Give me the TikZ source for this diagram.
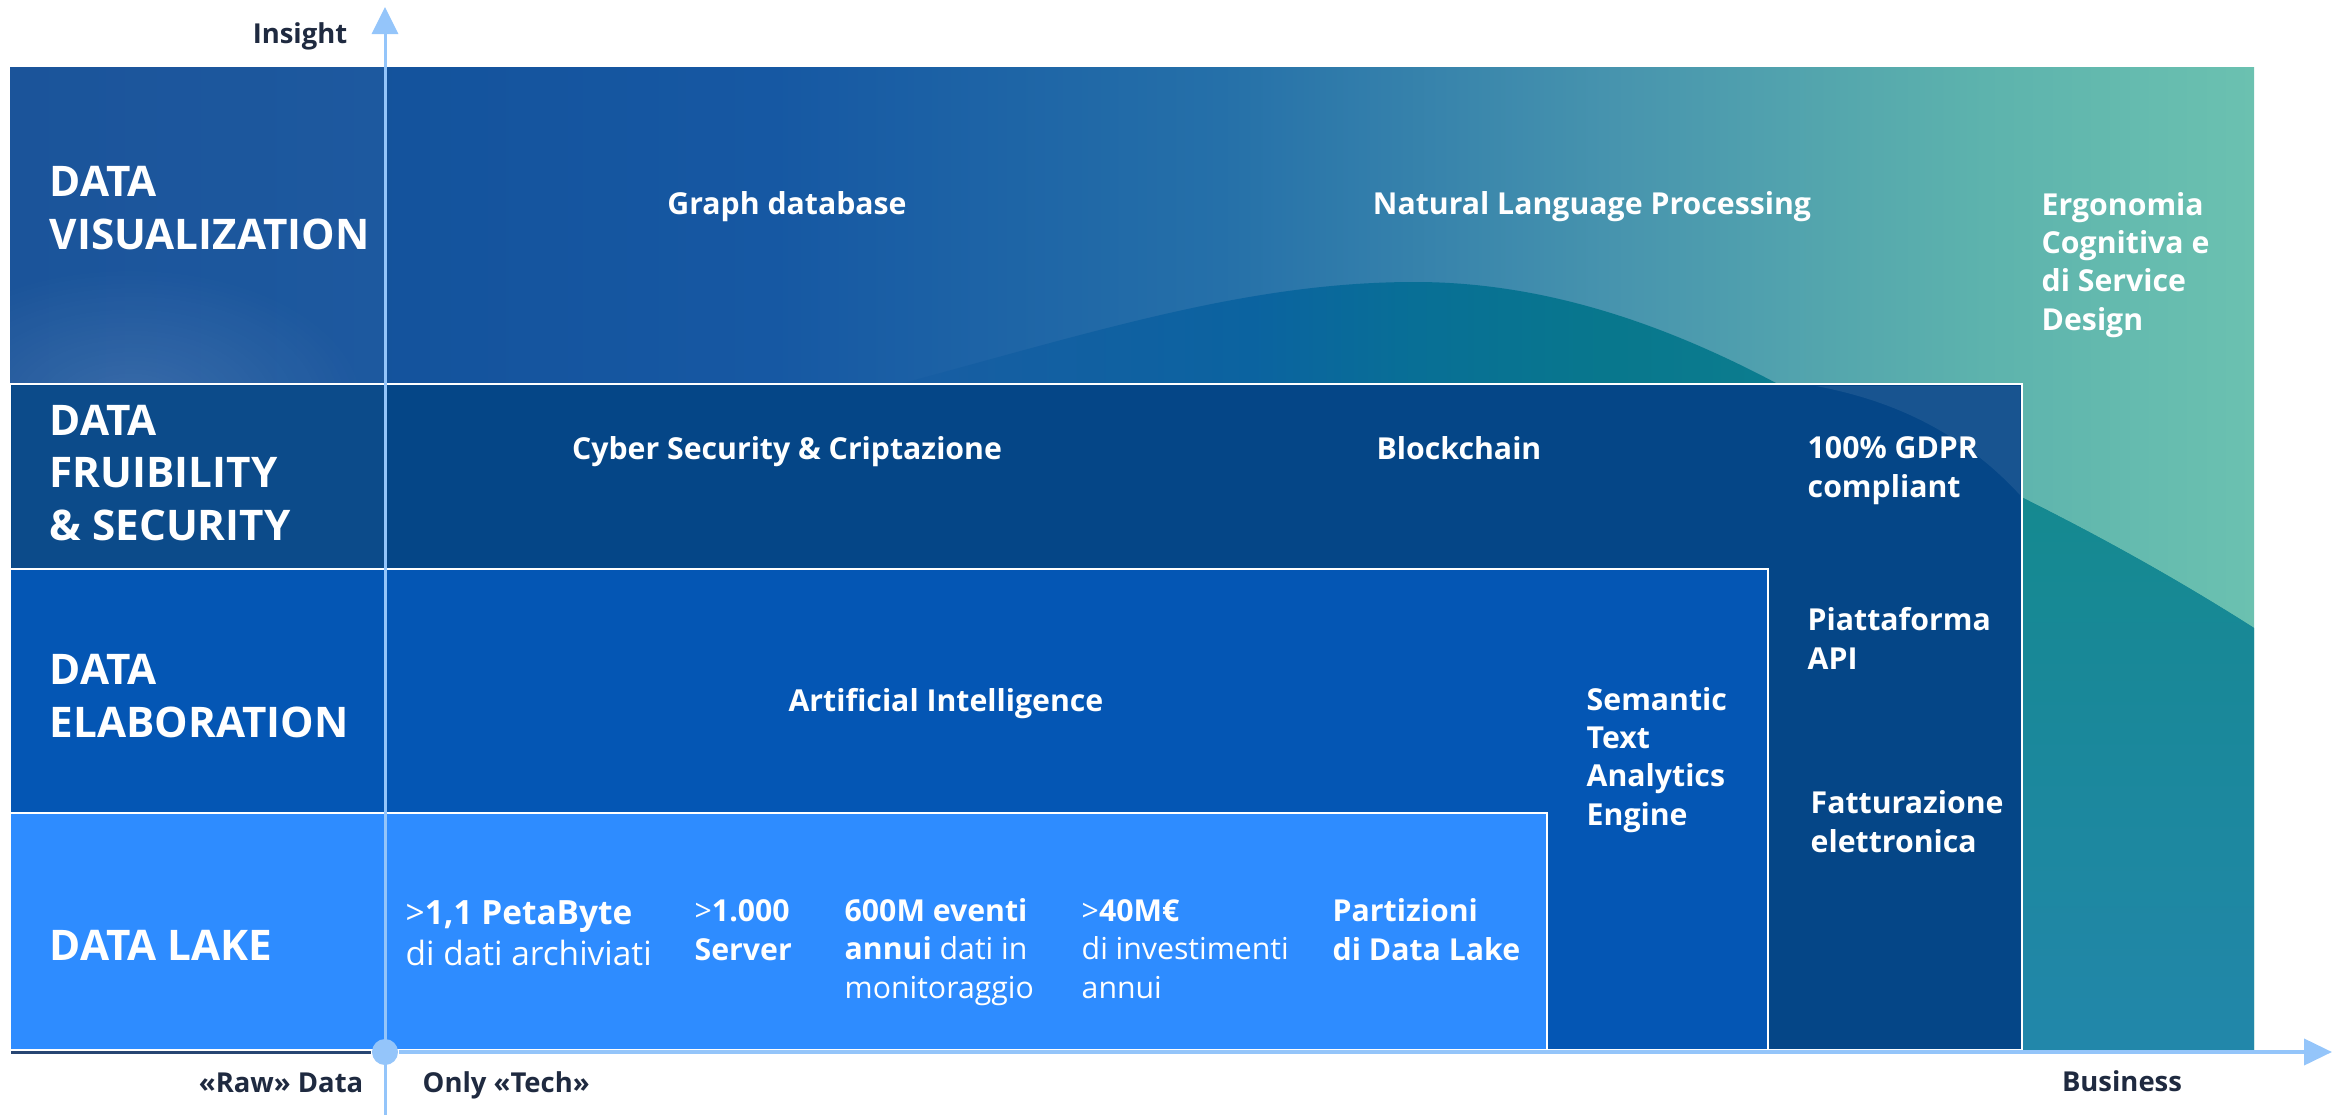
\documentclass[tikz,border=0pt]{standalone}
\usepackage{fontspec}
\setmainfont{Open Sans}
\usetikzlibrary{arrows.meta,fadings}
\definecolor{axisblue}{RGB}{148,197,250}
\definecolor{lakeblue}{RGB}{46,140,255}
\definecolor{elabblue}{RGB}{4,86,180}
\definecolor{fruiblue}{RGB}{5,70,135}
\definecolor{darknavy}{RGB}{31,42,64}
\definecolor{linenavy}{RGB}{40,70,115}
\definecolor{va}{RGB}{18,78,150}
\definecolor{vb}{RGB}{22,88,163}
\definecolor{vc}{RGB}{37,112,169}
\definecolor{vd}{RGB}{72,149,174}
\definecolor{ve}{RGB}{93,179,173}
\definecolor{vf}{RGB}{107,193,176}
\pgfdeclarehorizontalshading{visshade}{100bp}{color(0bp)=(va); color(25bp)=(va); color(42bp)=(vb); color(52bp)=(vc); color(61bp)=(vd); color(69bp)=(ve); color(75bp)=(vf); color(100bp)=(vf)}
\definecolor{da}{RGB}{24,93,163}
\definecolor{db}{RGB}{11,99,160}
\definecolor{dc}{RGB}{8,111,150}
\definecolor{dd}{RGB}{8,119,141}
\definecolor{de}{RGB}{22,140,148}
\pgfdeclarehorizontalshading{arcshade}{100bp}{color(0bp)=(da); color(25bp)=(da); color(38bp)=(db); color(44bp)=(dc); color(51bp)=(dd); color(75bp)=(de); color(100bp)=(de)}
\definecolor{ctop}{RGB}{20,137,143}
\definecolor{cbot}{RGB}{34,135,170}
\tikzfading[name=softglow, inner color=transparent!0, outer color=transparent!100]
\tikzset{
  boxline/.style={draw=white, line width=0.025cm},
  head/.style={anchor=base west, inner sep=0, align=left, text=white, font=\fontsize{12}{14.8}\selectfont\bfseries},
  item/.style={anchor=base west, inner sep=0, align=left, text=white, font=\fontsize{8.6}{10.9}\selectfont\bfseries},
  itemc/.style={item, anchor=base},
  bigitem/.style={item, font=\fontsize{9.5}{11.4}\selectfont\bfseries},
  axlab/.style={inner sep=0, text=darknavy, font=\fontsize{7.8}{9}\selectfont\bfseries},
  axisline/.style={draw=axisblue, line width=0.04cm},
}
\begin{document}
\begin{tikzpicture}[x=0.01cm,y=-0.01cm]
\useasboundingbox (0,0) rectangle (2341,1115);
% top band background
\shade[shading=visshade] (10,67) rectangle (2254,1050);
% darker arc region
\shade[shading=arcshade] (900,384) .. controls (1100,330) and (1250,282) .. (1415,282)
   .. controls (1560,282) and (1690,335) .. (1800,396)
   .. controls (1950,460) and (2100,530) .. (2254,628) -- (2254,1050) -- (900,1050) -- cycle;
\begin{scope}
  \clip (900,384) .. controls (1100,330) and (1250,282) .. (1415,282)
   .. controls (1560,282) and (1690,335) .. (1800,396)
   .. controls (1950,460) and (2100,530) .. (2254,628) -- (2254,1050) -- (900,1050) -- cycle;
  \shade[top color=ctop, bottom color=cbot] (2022,480) rectangle (2254,1050);
\end{scope}
% soft light on the left of the top band
\begin{scope}
  \clip (10,67) rectangle (2254,384);
  \fill[white, opacity=0.04] (10,67) rectangle (385,384);
  \fill[white, opacity=0.13, path fading=softglow] (130,405) ellipse (240 and 140);
\end{scope}
% boxes
\path[boxline, fill=fruiblue] (10,384) rectangle (2022,1050);
\fill[white, opacity=0.03] (12,386) rectangle (385,569);
\fill[white, opacity=0.08] (1816,386) -- (2020,386) -- (2020,495) .. controls (1960,430) and (1890,400) .. cycle;
\path[boxline, fill=elabblue] (10,569) rectangle (1768,1050);
\path[boxline, fill=lakeblue] (10,813) rectangle (1547,1050);
% axes
\node[circle, fill=axisblue, inner sep=0, minimum size=0.26cm] (origin) at (385,1052) {};
\coordinate (ybot) at (385,1115);
\coordinate (ytop) at (385,7);
\coordinate (xleft) at (11,1052);
\coordinate (xtip) at (2332,1052);
\draw[draw=linenavy, line width=0.03cm] (xleft) -- (origin.west);
\draw[axisline, -{Triangle[length=0.28cm,width=0.26cm]}] (origin.east) -- (xtip);
\draw[draw=axisblue, line width=0.03cm, -{Triangle[length=0.27cm,width=0.26cm]}] (ybot) -- (ytop);
% axis labels
\node[axlab, anchor=base east] (insight) at (348,43) {Insight};
\node[axlab, anchor=base east] (raw) at (364,1092) {«Raw» Data};
\node[axlab, anchor=base west] (tech) at (422,1092) {Only «Tech»};
\node[axlab, anchor=base] (business) at (2122,1091) {Business};
% layer headings (base = last line)
\node[head] (hvis) at (49,249) {DATA\\VISUALIZATION};
\node[head] (hfru) at (49,540) {DATA\\FRUIBILITY\\\& SECURITY};
\node[head] (hela) at (49,737) {DATA\\ELABORATION};
\node[head] (hlake) at (49,960) {DATA LAKE};
% visualization items
\node[itemc] (graph) at (787,214) {Graph database};
\node[itemc] (nlp) at (1592,214) {Natural Language Processing};
\node[item] (ergo) at (2041,330) {Ergonomia\\Cognitiva e\\di Service\\Design};
% fruibility items
\node[itemc] (cyber) at (787,459) {Cyber Security \& Criptazione};
\node[itemc] (block) at (1459,459) {Blockchain};
\node[item] (gdpr) at (1807,497) {100\% GDPR\\compliant};
\node[item] (api) at (1807,669) {Piattaforma\\API};
\node[item] (fatt) at (1810,852) {Fatturazione\\elettronica};
% elaboration items
\node[itemc] (ai) at (946,711) {Artificial Intelligence};
\node[item] (sem) at (1586,825) {Semantic\\Text\\Analytics\\Engine};
% data lake items
\node[bigitem] (dl1) at (405,965) {{\mdseries >}1,1 PetaByte\\{\mdseries di dati archiviati}};
\node[item] (dl2) at (694,960) {{\mdseries >}1.000\\Server};
\node[item] (dl3) at (844,998) {600M eventi\\annui {\mdseries dati in}\\{\mdseries monitoraggio}};
\node[item] (dl4) at (1081,998) {{\mdseries >}40M€\\{\mdseries di investimenti}\\{\mdseries annui}};
\node[item] (dl5) at (1332,960) {Partizioni\\di Data Lake};
\end{tikzpicture}
\end{document}
